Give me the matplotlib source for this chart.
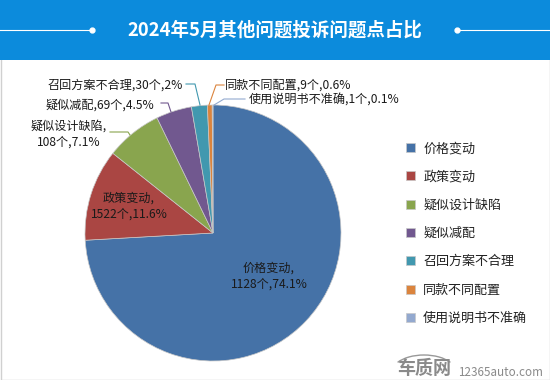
import matplotlib
matplotlib.use('Agg')
import matplotlib.pyplot as plt
from matplotlib.patches import Rectangle, Arc

plt.rcParams['font.family'] = ['Noto Sans CJK SC', 'DejaVu Sans']

# Chart data
categories = ['价格变动', '政策变动', '疑似设计缺陷', '疑似减配', '召回方案不合理', '同款不同配置', '使用说明书不准确']
shares = [74.1, 11.6, 7.1, 4.5, 2.0, 0.6, 0.1]
colors = ['#4572A7', '#AA4643', '#89A54E', '#71588F', '#4198AF', '#DB843D', '#93A9CF']
title = '2024年5月其他问题投诉问题点占比'

W, H = 550, 380
fig = plt.figure(figsize=(W / 100, H / 100), dpi=100, facecolor='white')

# overlay in pixel coords for header and frame
bg = fig.add_axes([0, 0, 1, 1])
bg.set_xlim(0, W)
bg.set_ylim(H, 0)
bg.axis('off')
bg.add_patch(Rectangle((0.5, 0.5), W - 1, H - 1, fc='white', ec='#d0d0d0', lw=1))
bg.add_patch(Rectangle((0, 0), W, 60, fc='#0C8BDC', ec='none'))
bg.text(275, 30, title, color='white', fontsize=13.3, fontweight='bold', ha='center', va='center')
bg.plot([0, 92], [30, 30], color='white', lw=0.8)
bg.plot([92], [30], 'o', color='white', ms=3.5)
bg.plot([457, 550], [30, 30], color='white', lw=0.8)
bg.plot([457], [30], 'o', color='white', ms=3.5)

# pie
R = 128
cx, cy = 213, 233
pie_ax = fig.add_axes([(cx - R - 2) / W, 1 - (cy + R + 2) / H, (2 * R + 4) / W, (2 * R + 4) / H])
wedges, _ = pie_ax.pie(shares, colors=colors, startangle=90, counterclock=False, radius=R / (R + 2),
                       wedgeprops={'edgecolor': '#c8c8c8', 'linewidth': 0.5})
pie_ax.set_xlim(-1, 1)
pie_ax.set_ylim(-1, 1)

# labels go above the pie
top = fig.add_axes([0, 0, 1, 1])
top.set_xlim(0, W)
top.set_ylim(H, 0)
top.axis('off')

lab = {'fontsize': 8.7, 'color': '#1a1a1a', 'linespacing': 1.3}
top.text(269, 276, '价格变动,\n1128个,74.1%', ha='center', va='center', **lab)
top.text(129, 206, '政策变动,\n1522个,11.6%', ha='center', va='center', **lab)
top.text(69, 134, '疑似设计缺陷,\n108个,7.1%', ha='center', va='center', **lab)
top.text(46, 105, '疑似减配,69个,4.5%', ha='left', va='center', **lab)
top.text(48, 85, '召回方案不合理,30个,2%', ha='left', va='center', **lab)
top.text(225, 85, '同款不同配置,9个,0.6%', ha='left', va='center', **lab)
top.text(249, 100, '使用说明书不准确,1个,0.1%', ha='left', va='center', **lab)

# leader lines
leaders = [
    ([110, 128, 130], [132, 132, 135], '#89A54E'),
    ([161, 168, 171], [103, 103, 112], '#71588F'),
    ([186, 195, 200], [84, 84, 105], '#4198AF'),
    ([224, 216, 209], [85, 85, 105], '#DB843D'),
    ([245, 224, 214], [99, 99, 105], '#93A9CF'),
]
for xs, ys, c in leaders:
    top.plot(xs, ys, color=c, lw=0.8)

# legend
fig.legend(wedges, categories, loc='upper left', bbox_to_anchor=(401 / W, 1 - 137 / H), frameon=False,
           fontsize=9.4, handlelength=0.68, handleheight=0.68, handletextpad=0.62, labelspacing=1.17,
           labelcolor='#222222', borderpad=0.4, borderaxespad=0)

# watermark
top.add_patch(Arc((424, 372), 64, 34, theta1=200, theta2=340, color='#999999', lw=1))
top.text(424, 369, '车质网', color='#8a8a8a', fontsize=13, fontweight='bold', ha='center', va='center')
top.text(458, 372, '12365auto.com', color='#8a8a8a', fontsize=8.4, ha='left', va='center')

fig.savefig('out.png', dpi=100)
